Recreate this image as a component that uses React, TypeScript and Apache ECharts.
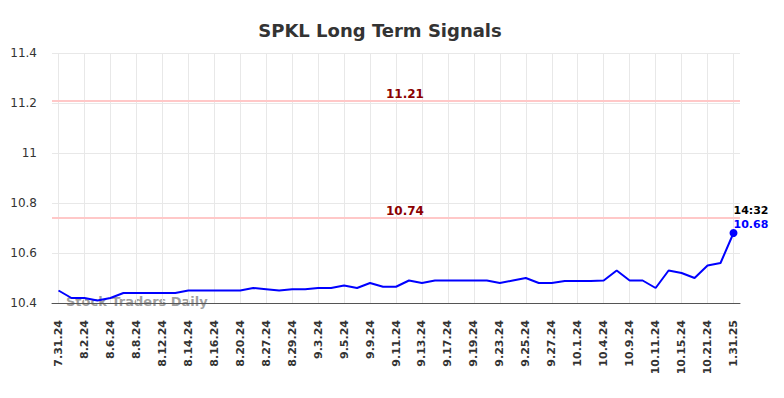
import React, { useEffect, useRef } from "react";
import * as echarts from "echarts";

const categories: string[] = [
  "7.31.24", "8.1.24", "8.2.24", "8.5.24", "8.6.24", "8.7.24", "8.8.24", "8.9.24",
  "8.12.24", "8.13.24", "8.14.24", "8.15.24", "8.16.24", "8.19.24", "8.20.24", "8.22.24",
  "8.27.24", "8.28.24", "8.29.24", "8.30.24", "9.3.24", "9.4.24", "9.5.24", "9.6.24",
  "9.9.24", "9.10.24", "9.11.24", "9.12.24", "9.13.24", "9.16.24", "9.17.24", "9.18.24",
  "9.19.24", "9.20.24", "9.23.24", "9.24.24", "9.25.24", "9.26.24", "9.27.24", "9.30.24",
  "10.1.24", "10.2.24", "10.4.24", "10.7.24", "10.9.24", "10.10.24", "10.11.24", "10.14.24",
  "10.15.24", "10.17.24", "10.21.24", "10.22.24", "1.31.25",
];

const prices: number[] = [
  10.45, 10.42, 10.42, 10.41, 10.42, 10.44, 10.44, 10.44,
  10.44, 10.44, 10.45, 10.45, 10.45, 10.45, 10.45, 10.46,
  10.455, 10.45, 10.455, 10.455, 10.46, 10.46, 10.47, 10.46,
  10.48, 10.465, 10.465, 10.49, 10.48, 10.49, 10.49, 10.49,
  10.49, 10.49, 10.48, 10.49, 10.5, 10.48, 10.48, 10.488,
  10.488, 10.488, 10.49, 10.53, 10.49, 10.49, 10.46, 10.53,
  10.52, 10.5, 10.55, 10.56, 10.68,
];

const signalLevels: number[] = [11.21, 10.74];
const yTicks = { min: 10.4, max: 11.4, interval: 0.2 };
const lastTime = "14:32";
const titleText = "SPKL Long Term Signals";
const watermark = "Stock Traders Daily";

export default function App() {
  const ref = useRef<HTMLDivElement>(null);
  useEffect(() => {
    if (!ref.current) return;
    const chart = echarts.init(ref.current, null, { renderer: "svg" });
    const lastIdx = prices.length - 1;
    const seriesData = prices.map((v, i) =>
      i === lastIdx
        ? {
            value: v,
            symbol: "circle",
            symbolSize: 8,
            itemStyle: { color: "#0000ff" },
            label: {
              show: true,
              position: [4, -26],
              align: "left",
              verticalAlign: "top",
              formatter: () => `{t|${lastTime}}\n{v|${v.toFixed(2)}}`,
              rich: {
                t: { color: "#000", fontWeight: "bold", fontSize: 11, fontFamily: "DejaVu Sans", lineHeight: 14 },
                v: { color: "#0000ff", fontWeight: "bold", fontSize: 11, fontFamily: "DejaVu Sans", lineHeight: 14 },
              },
            },
          }
        : { value: v }
    );
    chart.setOption({
      animation: false,
      title: {
        text: titleText,
        left: 375,
        top: 16,
        textAlign: "center",
        textStyle: { fontFamily: "DejaVu Sans", fontWeight: "bold", fontSize: 18, color: "#333" },
      },
      grid: { left: 52, right: 44, top: 53, bottom: 95 },
      xAxis: {
        type: "category",
        data: categories,
        boundaryGap: true,
        axisLine: { lineStyle: { color: "#555", width: 1 } },
        axisTick: { show: false },
        axisLabel: {
          interval: 1,
          rotate: 90,
          margin: 17,
          fontFamily: "DejaVu Sans",
          fontSize: 11,
          fontWeight: "bold",
          color: "#333",
        },
        splitLine: { show: true, interval: 1, alignWithLabel: true, lineStyle: { color: "#e8e8e8", width: 1 } },
      },
      yAxis: {
        type: "value",
        min: yTicks.min,
        max: yTicks.max,
        interval: yTicks.interval,
        axisLine: { show: false },
        axisTick: { show: false },
        axisLabel: {
          margin: 15,
          fontFamily: "DejaVu Sans",
          fontSize: 12,
          color: "#333",
          formatter: (v: number) => String(parseFloat(v.toFixed(2))),
        },
        splitLine: { lineStyle: { color: "#e8e8e8", width: 1 } },
      },
      graphic: [
        {
          type: "text",
          left: 66,
          top: 295,
          z: 0,
          style: {
            text: watermark,
            fontFamily: "DejaVu Sans",
            fontWeight: "bold",
            fontSize: 13,
            fill: "rgba(128,128,128,0.75)",
          },
        },
      ],
      series: [
        {
          type: "line",
          data: seriesData,
          symbol: "none",
          showSymbol: true,
          lineStyle: { color: "#0000ff", width: 2 },
          itemStyle: { color: "#0000ff" },
          z: 3,
          markLine: {
            silent: true,
            symbol: ["none", "none"],
            lineStyle: { color: "#ffc8c8", width: 2, type: "solid" },
            label: {
              position: "middle",
              distance: 1,
              offset: [9, 0],
              color: "#8b0000",
              fontFamily: "DejaVu Sans",
              fontWeight: "bold",
              fontSize: 12,
              formatter: (p: any) => String(p.value),
            },
            data: signalLevels.map((y) => ({ yAxis: y })),
          },
        },
      ],
    });
    return () => chart.dispose();
  }, []);
  return <div ref={ref} style={{ width: 784, height: 398, margin: -8 }} />;
}
